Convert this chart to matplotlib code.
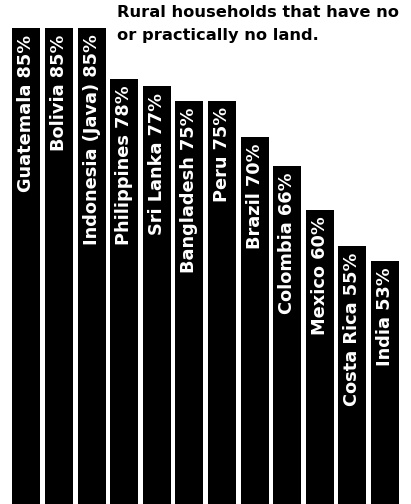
import matplotlib.pyplot as plt

countries = ['Guatemala', 'Bolivia', 'Indonesia (Java)', 'Philippines', 'Sri Lanka',
             'Bangladesh', 'Peru', 'Brazil', 'Colombia', 'Mexico', 'Costa Rica', 'India']
landless_pct = [85, 85, 85, 78, 77, 75, 75, 70, 66, 60, 55, 53]

fig = plt.figure(figsize=(4.11, 5.04), dpi=100)
ax = fig.add_axes([0, 0, 1, 1])

x = range(len(countries))
ax.bar(x, landless_pct, width=0.86, color='black', bottom=0)

for i, (name, val) in enumerate(zip(countries, landless_pct)):
    ax.text(i, val - 0.9, f'{name} {val}%', rotation=90, ha='center', va='top',
            color='white', fontsize=12.8, fontweight='bold')

ax.text(2.78, 88.2, 'Rural households that have no\nor practically no land.',
        ha='left', va='top', fontsize=11.7, fontweight='bold', color='black',
        linespacing=1.65)

ax.set_xlim(-0.81, 11.8)
ax.set_ylim(19.6, 88.85)
ax.axis('off')

fig.savefig('out.png', dpi=100)
